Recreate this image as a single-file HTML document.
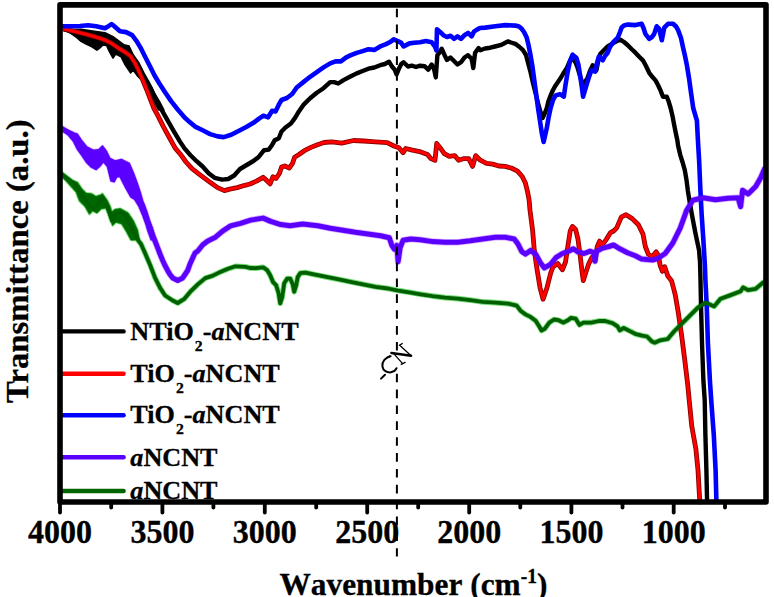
<!DOCTYPE html>
<html><head><meta charset="utf-8"><style>
html,body{margin:0;padding:0;background:#fff;}
body{width:774px;height:597px;overflow:hidden;position:relative;}
svg{position:absolute;left:0;top:0;}
text{font-family:"Liberation Serif",serif;font-weight:bold;fill:#000;}
</style></head><body>
<svg width="774" height="597" viewBox="0 0 774 597">
<g stroke-linejoin="round" stroke-linecap="round">
<polygon points="60.0,126.0 66.7,129.4 73.4,132.7 77.4,134.1 81.4,140.1 86.8,146.8 93.5,150.2 98.9,149.5 102.5,145.9 106.7,151.7 110.0,158.4 115.1,160.9 121.3,159.4 129.4,163.4 133.4,172.8 137.4,183.5 140.1,191.6 142.8,200.9 145.5,210.3 148.8,219.7 152.2,227.7 156.1,240.0 151.1,240.0 147.5,230.0 146.1,225.1 142.8,215.7 138.8,206.3 134.7,199.6 130.7,196.9 125.4,187.5 120.0,176.8 116.8,176.9 114.2,181.9 110.9,181.0 107.5,166.8 103.4,161.8 100.2,166.0 96.2,169.6 90.8,166.9 86.8,162.9 81.4,154.9 77.4,149.5 73.4,141.4 66.7,133.4 60.0,129.4" fill="#dcb0ff" stroke="#dcb0ff" stroke-width="2.6"/>
<polyline fill="none" points="60.5,127.6 64.0,130.0 68.1,132.6 72.0,134.0 75.6,137.6 78.0,141.0 80.6,145.2 83.0,148.0 85.6,152.7 88.0,156.0 90.7,160.3 93.0,162.0 95.7,164.0 97.5,160.0 99.5,157.7 101.0,153.0 103.2,150.2 105.5,155.0 108.3,160.3 110.0,168.0 112.0,175.3 114.0,171.0 115.8,167.8 118.0,165.0 120.8,164.0 123.0,167.0 125.8,170.3 128.0,176.0 130.9,182.9 133.0,186.0 135.9,190.4 138.5,196.0 140.9,203.0 142.5,205.0 145.0,212.0 147.5,220.1 150.0,227.0 152.6,235.2 155.0,241.0 157.6,247.7 160.0,254.0 162.6,260.3 165.0,265.5 167.6,270.4 170.0,274.5 172.7,277.9 177.7,280.4 182.7,277.9 185.0,274.5 187.7,270.4 190.0,264.0 192.8,257.8 195.0,253.0 197.8,251.0 202.8,244.7 207.8,240.9 215.4,237.2 222.9,230.9 230.5,225.9 240.5,223.4 250.6,220.1 263.1,218.1 270.7,221.4 280.7,224.6 290.1,225.7 302.6,224.0 317.7,225.7 330.3,228.2 342.8,230.3 355.4,232.3 367.9,234.0 380.5,235.8 389.3,237.8 391.8,245.3 394.3,249.1 396.8,245.3 398.1,261.7 400.1,247.8 403.1,240.3 410.7,239.0 420.0,239.8 432.6,241.6 445.1,242.3 457.7,242.3 470.3,240.8 482.8,239.0 495.4,237.3 505.4,237.3 514.2,239.0 518.0,244.1 521.8,251.6 525.5,254.1 530.6,250.4 535.6,254.1 540.6,262.9 544.4,267.9 550.3,264.5 556.2,257.4 562.4,253.5 568.6,251.2 573.3,248.8 577.9,251.9 584.1,253.5 590.3,251.2 593.5,252.5 595.0,261.2 596.5,251.2 602.7,248.1 608.9,246.5 613.6,245.0 619.8,248.8 627.5,252.7 635.3,255.8 641.5,258.9 647.6,259.6 652.5,260.0 657.7,258.5 665.2,253.5 672.8,243.0 680.3,227.9 686.6,210.4 692.9,200.3 702.9,197.8 715.5,199.8 728.0,198.3 738.1,197.8 740.6,206.6 742.6,190.3 748.1,194.0 755.7,186.5 760.7,177.7 764.5,168.9" stroke="#dcb0ff" stroke-width="6.6"/>
<polygon points="61.1,172.1 66.5,175.9 72.0,180.3 77.4,182.4 81.8,189.0 86.1,193.3 91.6,193.9 95.9,196.6 100.0,195.3 102.5,193.9 106.8,199.9 110.0,206.4 111.7,212.0 115.1,209.5 120.1,208.7 128.0,213.0 133.4,221.0 137.4,230.0 139.4,240.0 131.0,240.0 126.8,232.1 121.8,223.8 115.9,222.1 112.6,225.4 108.4,213.7 105.8,208.0 101.4,208.6 97.0,212.9 92.7,210.8 89.4,214.0 85.1,206.4 79.6,201.0 76.3,192.2 70.9,186.2 66.5,181.3 61.1,175.9" fill="#7d7" stroke="#7d7" stroke-width="2.6"/>
<polyline fill="none" points="60.5,172.8 64.0,176.0 68.1,179.1 72.0,182.0 75.6,185.4 78.0,189.0 80.6,192.9 83.0,197.0 85.6,200.5 88.0,204.0 90.7,208.0 93.0,208.5 95.7,206.7 99.0,202.0 102.0,197.9 104.5,201.0 107.0,205.5 109.5,213.0 112.0,220.6 114.5,216.0 117.0,213.0 120.0,212.0 123.3,213.0 126.0,216.0 128.4,220.6 131.0,226.0 133.4,230.6 136.0,236.0 138.4,240.7 141.0,244.0 145.0,253.0 150.1,265.0 155.1,277.9 160.1,287.9 165.1,295.5 172.7,300.5 177.7,303.0 184.0,299.2 190.3,291.7 197.8,284.4 205.3,278.1 212.9,275.6 220.4,271.9 227.9,268.8 235.5,266.3 245.5,266.8 250.0,268.0 256.0,268.1 263.1,267.3 267.1,270.1 270.1,275.1 273.1,282.2 276.1,285.2 278.6,293.2 280.2,303.3 282.2,297.2 284.2,283.2 287.2,278.6 290.2,278.6 292.7,284.2 294.2,291.7 296.2,285.2 297.7,277.1 300.3,273.1 305.3,272.6 312.7,274.2 325.2,276.7 337.8,279.2 350.4,281.8 362.9,284.3 375.5,286.8 388.0,288.5 398.1,290.6 410.7,292.6 420.7,294.3 432.6,296.1 445.1,297.6 457.7,298.6 470.3,300.1 482.8,301.9 495.4,302.6 507.9,303.6 516.7,305.6 520.5,310.7 525.5,314.4 530.6,316.9 535.6,320.7 539.0,326.0 541.5,330.5 544.7,328.8 549.3,322.6 554.0,319.5 558.6,320.2 563.3,322.6 567.9,320.2 571.0,317.9 575.7,318.7 579.5,324.9 583.4,322.6 591.2,322.6 598.9,321.0 605.1,321.0 612.9,323.3 617.5,326.4 619.8,330.3 623.7,328.0 629.9,331.1 636.1,334.2 642.3,335.7 647.0,336.5 651.6,341.2 654.7,342.7 660.2,340.3 667.7,339.0 674.0,331.5 680.3,325.2 689.1,316.4 697.9,307.6 705.4,302.6 714.2,306.4 720.5,298.8 730.6,295.1 740.6,291.3 743.1,287.5 748.1,290.1 755.7,288.8 763.2,282.5" stroke="#7d7" stroke-width="5.6"/>
<polygon points="60.0,26.5 68.4,29.6 81.0,29.2 97.7,31.7 105.0,32.7 113.0,36.7 118.4,40.7 123.8,44.7 129.1,46.1 133.2,54.8 138.5,62.2 143.9,72.9 149.2,82.3 154.6,93.0 160.0,102.4 164.0,110.0 158.6,110.0 155.9,105.1 151.9,97.0 147.9,89.0 142.5,80.9 137.2,75.6 133.2,70.2 130.5,72.9 125.1,64.9 121.1,56.8 115.7,54.1 113.0,58.2 109.5,52.0 106.5,45.5 103.0,45.0 100.2,47.7 96.9,50.2 91.9,46.8 85.1,43.5 81.0,41.4 76.8,37.6 68.4,31.7 60.0,29.0" fill="#000" stroke="#000" stroke-width="1.5"/>
<polyline fill="none" points="60.0,27.7 68.4,30.6 76.8,33.5 81.0,35.3 85.1,37.0 91.9,39.5 96.9,41.0 100.2,40.0 105.0,37.5 109.0,43.0 113.0,47.5 115.7,46.0 118.4,48.5 121.1,50.5 125.1,54.8 129.1,59.0 133.2,62.5 138.5,69.0 142.5,76.5 147.0,82.0 150.6,88.2 155.3,98.8 160.0,107.0 164.6,115.2 169.3,123.4 174.0,131.6 180.0,141.6 184.5,148.4 190.5,155.2 196.6,161.2 202.6,166.5 208.6,173.3 214.6,177.8 222.2,179.6 228.2,179.0 234.2,175.5 240.0,169.0 246.7,165.0 253.4,161.0 258.7,156.9 264.1,150.2 268.8,149.6 272.1,144.9 274.8,140.2 278.8,138.2 281.5,131.5 285.5,127.5 290.9,123.5 294.9,118.1 298.9,111.4 303.4,104.9 310.1,98.2 316.8,92.8 323.5,88.2 330.2,82.1 334.2,82.1 338.2,83.5 343.5,80.1 350.9,76.3 356.7,73.4 362.6,71.0 368.4,68.7 374.3,67.5 380.2,65.2 384.9,64.0 389.0,61.7 391.9,66.3 394.8,69.9 396.6,74.5 398.9,68.7 401.3,64.0 403.6,62.2 408.0,66.5 411.9,65.7 416.0,67.0 420.0,65.7 424.7,66.3 428.2,69.8 431.7,64.5 434.1,69.2 435.8,77.4 437.4,55.2 439.3,52.8 441.7,48.7 444.6,55.2 447.0,59.9 450.5,57.5 454.0,61.0 457.5,64.5 461.0,62.2 464.5,57.5 468.1,55.2 471.6,58.7 473.3,68.1 475.1,52.8 478.6,48.1 480.3,50.2 485.0,48.5 490.3,47.7 495.0,46.5 500.4,45.2 504.0,43.5 507.9,41.4 511.0,42.5 515.4,43.9 519.0,46.5 523.0,50.2 526.0,55.0 528.0,62.8 530.5,72.0 533.0,82.9 535.5,93.0 538.0,103.0 540.5,112.0 542.6,118.0 544.5,114.0 546.8,108.0 548.5,101.0 550.6,95.4 553.0,90.0 555.6,85.4 560.0,79.1 563.0,74.0 566.9,67.8 569.5,62.0 572.0,57.7 575.7,62.8 577.6,67.8 580.0,76.0 583.1,85.4 585.0,82.0 587.6,77.8 590.0,71.0 592.7,65.3 594.5,67.0 596.4,70.3 598.0,62.0 600.2,54.0 604.0,50.0 607.7,46.4 611.0,44.5 614.0,42.7 617.0,41.0 620.3,39.6 624.0,42.0 627.8,45.2 631.5,49.0 635.4,52.7 639.0,56.5 642.9,60.3 646.0,66.0 649.2,72.8 652.0,76.5 655.5,80.4 658.0,85.0 660.5,90.4 663.0,96.7 666.8,96.7 668.5,101.0 670.6,108.0 672.5,116.0 674.3,125.6 676.0,134.0 677.3,140.0 678.1,145.7 680.3,155.1 682.5,162.0 684.8,170.2 686.5,180.0 687.8,190.3 689.5,201.0 691.6,212.9 693.5,223.0 695.4,233.0 697.3,242.0 699.1,250.6 700.0,262.0 700.5,280.0 701.0,305.0 702.0,343.0 703.4,380.5 704.7,400.0 705.4,435.1 706.4,470.3 707.1,502.0" stroke="#000" stroke-width="4.4"/>
<polyline fill="none" points="63.0,28.8 68.0,29.8 75.0,31.5 81.0,33.0 87.0,34.5 93.5,36.4 99.0,38.0 105.0,40.0 111.7,43.4 118.4,48.1 125.1,52.1 130.5,56.1 134.5,62.2 138.5,70.2 142.5,79.6 146.6,89.5 150.6,100.0 154.0,108.5 157.6,115.2 163.5,126.9 169.3,137.5 175.2,148.1 180.0,153.7 186.0,162.0 192.0,168.7 198.1,173.3 204.1,177.8 210.1,182.3 217.6,187.6 224.4,190.6 229.7,189.1 237.2,187.6 244.8,185.3 250.0,184.0 256.5,181.1 263.1,177.3 266.3,180.1 270.1,183.9 272.9,176.8 276.1,178.4 279.4,173.5 281.6,167.0 284.8,165.9 289.2,168.1 292.4,163.7 294.6,157.2 299.0,154.5 304.4,150.7 310.9,147.4 317.5,144.7 324.0,142.5 331.8,141.8 341.8,143.1 353.6,140.5 363.7,141.0 375.4,141.8 387.2,142.6 393.9,146.0 398.9,147.7 403.1,152.7 405.7,148.5 412.4,150.2 420.8,151.9 427.5,154.4 430.8,158.6 435.0,160.3 436.7,143.5 440.1,147.7 444.3,153.6 449.3,156.4 454.7,155.6 458.6,160.2 463.3,158.7 468.7,158.7 472.6,166.4 475.7,155.6 480.3,160.2 486.5,163.3 492.7,164.1 498.9,166.0 505.1,166.4 511.3,168.0 517.5,171.1 522.2,176.5 525.3,182.7 527.6,192.0 529.1,200.0 530.0,210.2 532.6,230.3 534.3,250.4 536.8,267.9 540.1,288.0 543.1,299.3 546.9,288.0 550.7,273.0 553.1,266.7 557.8,263.6 562.4,269.8 565.5,262.0 567.8,246.5 570.2,231.0 572.5,226.4 575.6,229.5 577.9,238.8 580.2,255.8 581.8,269.8 583.3,280.6 585.7,272.9 588.8,263.6 591.9,257.4 595.0,260.5 597.3,246.5 599.6,241.1 601.9,245.0 605.8,240.3 610.5,232.6 613.6,231.0 616.7,227.9 621.3,217.1 626.0,214.7 632.2,218.6 638.4,224.8 643.0,234.1 645.3,246.5 648.4,254.3 652.3,256.6 656.2,251.9 658.5,255.8 660.1,265.1 662.4,271.3 664.7,266.7 667.8,276.0 671.5,280.7 674.0,290.0 675.3,295.1 678.3,312.7 681.6,335.3 684.8,360.4 687.8,385.5 689.2,400.0 691.8,426.4 695.9,449.2 698.0,470.3 699.8,502.0" stroke="#800" stroke-width="4.8"/>
<polyline fill="none" points="63.0,28.8 68.0,29.8 75.0,31.5 81.0,33.0 87.0,34.5 93.5,36.4 99.0,38.0 105.0,40.0 111.7,43.4 118.4,48.1 125.1,52.1 130.5,56.1 134.5,62.2 138.5,70.2 142.5,79.6 146.6,89.5 150.6,100.0 154.0,108.5 157.6,115.2 163.5,126.9 169.3,137.5 175.2,148.1 180.0,153.7 186.0,162.0 192.0,168.7 198.1,173.3 204.1,177.8 210.1,182.3 217.6,187.6 224.4,190.6 229.7,189.1 237.2,187.6 244.8,185.3 250.0,184.0 256.5,181.1 263.1,177.3 266.3,180.1 270.1,183.9 272.9,176.8 276.1,178.4 279.4,173.5 281.6,167.0 284.8,165.9 289.2,168.1 292.4,163.7 294.6,157.2 299.0,154.5 304.4,150.7 310.9,147.4 317.5,144.7 324.0,142.5 331.8,141.8 341.8,143.1 353.6,140.5 363.7,141.0 375.4,141.8 387.2,142.6 393.9,146.0 398.9,147.7 403.1,152.7 405.7,148.5 412.4,150.2 420.8,151.9 427.5,154.4 430.8,158.6 435.0,160.3 436.7,143.5 440.1,147.7 444.3,153.6 449.3,156.4 454.7,155.6 458.6,160.2 463.3,158.7 468.7,158.7 472.6,166.4 475.7,155.6 480.3,160.2 486.5,163.3 492.7,164.1 498.9,166.0 505.1,166.4 511.3,168.0 517.5,171.1 522.2,176.5 525.3,182.7 527.6,192.0 529.1,200.0 530.0,210.2 532.6,230.3 534.3,250.4 536.8,267.9 540.1,288.0 543.1,299.3 546.9,288.0 550.7,273.0 553.1,266.7 557.8,263.6 562.4,269.8 565.5,262.0 567.8,246.5 570.2,231.0 572.5,226.4 575.6,229.5 577.9,238.8 580.2,255.8 581.8,269.8 583.3,280.6 585.7,272.9 588.8,263.6 591.9,257.4 595.0,260.5 597.3,246.5 599.6,241.1 601.9,245.0 605.8,240.3 610.5,232.6 613.6,231.0 616.7,227.9 621.3,217.1 626.0,214.7 632.2,218.6 638.4,224.8 643.0,234.1 645.3,246.5 648.4,254.3 652.3,256.6 656.2,251.9 658.5,255.8 660.1,265.1 662.4,271.3 664.7,266.7 667.8,276.0 671.5,280.7 674.0,290.0 675.3,295.1 678.3,312.7 681.6,335.3 684.8,360.4 687.8,385.5 689.2,400.0 691.8,426.4 695.9,449.2 698.0,470.3 699.8,502.0" stroke="#f00" stroke-width="3.0"/>
<polyline fill="none" points="60.0,26.3 70.0,26.3 80.0,26.0 88.0,25.3 96.0,26.3 105.0,28.3 108.0,26.5 111.5,24.0 114.0,26.0 120.0,31.3 126.0,32.1 132.1,35.1 136.6,41.1 141.1,48.7 145.6,57.7 150.2,66.8 154.7,75.8 159.2,83.3 165.2,92.4 171.3,101.4 177.3,109.0 184.6,117.6 189.3,121.7 195.1,126.6 202.6,130.3 210.1,134.1 217.6,136.4 223.7,137.1 231.2,134.8 240.0,130.2 246.7,126.8 253.4,122.8 258.7,118.8 263.4,115.7 268.1,117.4 272.1,110.7 275.5,111.4 278.8,104.7 281.5,100.0 286.9,98.0 292.2,94.0 296.7,87.5 303.4,82.1 310.1,76.8 316.8,72.1 323.5,67.4 330.2,63.4 335.5,61.4 340.9,61.4 346.2,57.4 350.9,55.2 356.7,52.9 362.6,51.1 368.4,49.3 374.3,49.9 380.2,46.4 386.0,44.1 390.7,41.7 393.7,39.4 397.8,41.1 401.3,42.9 403.6,46.4 409.5,43.4 414.0,42.8 420.0,42.3 425.9,41.1 431.7,42.3 435.2,47.0 436.4,50.5 437.0,29.4 439.9,31.7 443.4,35.2 447.0,37.0 450.5,35.8 454.0,38.8 457.5,36.4 461.0,38.8 464.5,35.2 468.1,32.9 471.6,36.4 473.9,31.7 477.4,29.4 480.0,28.0 485.3,27.6 495.3,26.3 505.4,25.1 515.4,25.6 519.0,26.5 521.7,28.8 524.0,32.0 526.7,37.6 528.5,45.0 530.5,55.2 532.5,67.0 534.3,80.4 536.0,93.0 538.0,108.0 540.0,121.0 541.8,133.1 543.6,141.9 545.0,136.0 546.8,128.1 548.5,118.0 550.6,108.0 553.0,100.0 555.6,95.4 560.0,94.2 563.8,96.7 565.5,85.0 567.5,72.8 570.0,61.0 572.6,54.7 576.3,57.7 578.5,65.0 580.1,75.3 581.8,87.0 583.1,96.7 586.4,85.4 589.0,77.0 591.4,70.3 595.2,71.6 597.0,63.0 598.9,56.5 602.7,60.3 605.0,56.0 607.7,52.7 610.0,47.0 612.8,42.7 617.8,37.6 620.0,32.0 621.6,27.6 624.0,25.5 627.8,24.6 635.4,25.1 641.7,23.8 643.5,28.0 645.4,33.9 649.2,38.9 652.0,37.0 654.2,33.9 656.7,26.3 659.2,28.8 661.8,40.2 664.3,27.6 668.0,23.8 673.1,23.8 676.0,26.5 678.1,30.1 681.0,38.0 683.1,47.7 685.0,56.0 686.9,65.3 689.0,78.0 690.7,90.4 693.2,108.0 696.9,120.6 697.9,140.0 699.1,160.1 700.4,190.3 701.7,215.4 703.4,240.5 704.9,265.6 705.4,280.0 706.7,305.1 707.9,342.8 709.9,380.5 711.2,400.0 713.8,435.1 715.6,470.3 716.4,502.0" stroke="#0000ff" stroke-width="4.6"/>
<polygon points="60.0,126.0 66.7,129.4 73.4,132.7 77.4,134.1 81.4,140.1 86.8,146.8 93.5,150.2 98.9,149.5 102.5,145.9 106.7,151.7 110.0,158.4 115.1,160.9 121.3,159.4 129.4,163.4 133.4,172.8 137.4,183.5 140.1,191.6 142.8,200.9 145.5,210.3 148.8,219.7 152.2,227.7 156.1,240.0 151.1,240.0 147.5,230.0 146.1,225.1 142.8,215.7 138.8,206.3 134.7,199.6 130.7,196.9 125.4,187.5 120.0,176.8 116.8,176.9 114.2,181.9 110.9,181.0 107.5,166.8 103.4,161.8 100.2,166.0 96.2,169.6 90.8,166.9 86.8,162.9 81.4,154.9 77.4,149.5 73.4,141.4 66.7,133.4 60.0,129.4" fill="#5a00ff" stroke="#5a00ff" stroke-width="1.2"/>
<polyline fill="none" points="60.5,127.6 64.0,130.0 68.1,132.6 72.0,134.0 75.6,137.6 78.0,141.0 80.6,145.2 83.0,148.0 85.6,152.7 88.0,156.0 90.7,160.3 93.0,162.0 95.7,164.0 97.5,160.0 99.5,157.7 101.0,153.0 103.2,150.2 105.5,155.0 108.3,160.3 110.0,168.0 112.0,175.3 114.0,171.0 115.8,167.8 118.0,165.0 120.8,164.0 123.0,167.0 125.8,170.3 128.0,176.0 130.9,182.9 133.0,186.0 135.9,190.4 138.5,196.0 140.9,203.0 142.5,205.0 145.0,212.0 147.5,220.1 150.0,227.0 152.6,235.2 155.0,241.0 157.6,247.7 160.0,254.0 162.6,260.3 165.0,265.5 167.6,270.4 170.0,274.5 172.7,277.9 177.7,280.4 182.7,277.9 185.0,274.5 187.7,270.4 190.0,264.0 192.8,257.8 195.0,253.0 197.8,251.0 202.8,244.7 207.8,240.9 215.4,237.2 222.9,230.9 230.5,225.9 240.5,223.4 250.6,220.1 263.1,218.1 270.7,221.4 280.7,224.6 290.1,225.7 302.6,224.0 317.7,225.7 330.3,228.2 342.8,230.3 355.4,232.3 367.9,234.0 380.5,235.8 389.3,237.8 391.8,245.3 394.3,249.1 396.8,245.3 398.1,261.7 400.1,247.8 403.1,240.3 410.7,239.0 420.0,239.8 432.6,241.6 445.1,242.3 457.7,242.3 470.3,240.8 482.8,239.0 495.4,237.3 505.4,237.3 514.2,239.0 518.0,244.1 521.8,251.6 525.5,254.1 530.6,250.4 535.6,254.1 540.6,262.9 544.4,267.9 550.3,264.5 556.2,257.4 562.4,253.5 568.6,251.2 573.3,248.8 577.9,251.9 584.1,253.5 590.3,251.2 593.5,252.5 595.0,261.2 596.5,251.2 602.7,248.1 608.9,246.5 613.6,245.0 619.8,248.8 627.5,252.7 635.3,255.8 641.5,258.9 647.6,259.6 652.5,260.0 657.7,258.5 665.2,253.5 672.8,243.0 680.3,227.9 686.6,210.4 692.9,200.3 702.9,197.8 715.5,199.8 728.0,198.3 738.1,197.8 740.6,206.6 742.6,190.3 748.1,194.0 755.7,186.5 760.7,177.7 764.5,168.9" stroke="#5a00ff" stroke-width="5.0"/>
<polygon points="61.1,172.1 66.5,175.9 72.0,180.3 77.4,182.4 81.8,189.0 86.1,193.3 91.6,193.9 95.9,196.6 100.0,195.3 102.5,193.9 106.8,199.9 110.0,206.4 111.7,212.0 115.1,209.5 120.1,208.7 128.0,213.0 133.4,221.0 137.4,230.0 139.4,240.0 131.0,240.0 126.8,232.1 121.8,223.8 115.9,222.1 112.6,225.4 108.4,213.7 105.8,208.0 101.4,208.6 97.0,212.9 92.7,210.8 89.4,214.0 85.1,206.4 79.6,201.0 76.3,192.2 70.9,186.2 66.5,181.3 61.1,175.9" fill="#006800" stroke="#006800" stroke-width="0.8"/>
<polyline fill="none" points="60.5,172.8 64.0,176.0 68.1,179.1 72.0,182.0 75.6,185.4 78.0,189.0 80.6,192.9 83.0,197.0 85.6,200.5 88.0,204.0 90.7,208.0 93.0,208.5 95.7,206.7 99.0,202.0 102.0,197.9 104.5,201.0 107.0,205.5 109.5,213.0 112.0,220.6 114.5,216.0 117.0,213.0 120.0,212.0 123.3,213.0 126.0,216.0 128.4,220.6 131.0,226.0 133.4,230.6 136.0,236.0 138.4,240.7 141.0,244.0 145.0,253.0 150.1,265.0 155.1,277.9 160.1,287.9 165.1,295.5 172.7,300.5 177.7,303.0 184.0,299.2 190.3,291.7 197.8,284.4 205.3,278.1 212.9,275.6 220.4,271.9 227.9,268.8 235.5,266.3 245.5,266.8 250.0,268.0 256.0,268.1 263.1,267.3 267.1,270.1 270.1,275.1 273.1,282.2 276.1,285.2 278.6,293.2 280.2,303.3 282.2,297.2 284.2,283.2 287.2,278.6 290.2,278.6 292.7,284.2 294.2,291.7 296.2,285.2 297.7,277.1 300.3,273.1 305.3,272.6 312.7,274.2 325.2,276.7 337.8,279.2 350.4,281.8 362.9,284.3 375.5,286.8 388.0,288.5 398.1,290.6 410.7,292.6 420.7,294.3 432.6,296.1 445.1,297.6 457.7,298.6 470.3,300.1 482.8,301.9 495.4,302.6 507.9,303.6 516.7,305.6 520.5,310.7 525.5,314.4 530.6,316.9 535.6,320.7 539.0,326.0 541.5,330.5 544.7,328.8 549.3,322.6 554.0,319.5 558.6,320.2 563.3,322.6 567.9,320.2 571.0,317.9 575.7,318.7 579.5,324.9 583.4,322.6 591.2,322.6 598.9,321.0 605.1,321.0 612.9,323.3 617.5,326.4 619.8,330.3 623.7,328.0 629.9,331.1 636.1,334.2 642.3,335.7 647.0,336.5 651.6,341.2 654.7,342.7 660.2,340.3 667.7,339.0 674.0,331.5 680.3,325.2 689.1,316.4 697.9,307.6 705.4,302.6 714.2,306.4 720.5,298.8 730.6,295.1 740.6,291.3 743.1,287.5 748.1,290.1 755.7,288.8 763.2,282.5" stroke="#005f00" stroke-width="3.8"/>
</g>
<line x1="396.9" y1="8.7" x2="396.9" y2="556.5" stroke="#000" stroke-width="2" stroke-dasharray="8.6 7.27"/>
<g stroke-width="4.4" stroke-linecap="round"><line x1="62" y1="331.4" x2="123.6" y2="331.4" stroke="#000" /><line x1="62" y1="373.8" x2="123.6" y2="373.8" stroke="#f00" /><line x1="62" y1="415.2" x2="123.6" y2="415.2" stroke="#0000ff" /><line x1="62" y1="457.3" x2="123.6" y2="457.3" stroke="#5a00ff" /><line x1="62" y1="491.0" x2="123.6" y2="491.0" stroke="#006400" /></g>
<rect x="60" y="4.9" width="706" height="497.1" fill="none" stroke="#000" stroke-width="5.6" stroke-linejoin="round"/>
<g stroke="#000" stroke-width="3.8" stroke-linecap="round"><line x1="60" y1="503" x2="60" y2="512.5" /><line x1="162.4" y1="503" x2="162.4" y2="512.5" /><line x1="264.8" y1="503" x2="264.8" y2="512.5" /><line x1="367.2" y1="503" x2="367.2" y2="512.5" /><line x1="469.2" y1="503" x2="469.2" y2="512.5" /><line x1="571.4" y1="503" x2="571.4" y2="512.5" /><line x1="673.7" y1="503" x2="673.7" y2="512.5" /><line x1="111.2" y1="503" x2="111.2" y2="507.5" /><line x1="213.4" y1="503" x2="213.4" y2="507.5" /><line x1="316.2" y1="503" x2="316.2" y2="507.5" /><line x1="418.2" y1="503" x2="418.2" y2="507.5" /><line x1="520.3" y1="503" x2="520.3" y2="507.5" /><line x1="622.5" y1="503" x2="622.5" y2="507.5" /><line x1="725.0" y1="503" x2="725.0" y2="507.5" /></g>
<g font-size="33"><text transform="translate(60,542.6) scale(0.97,1)" text-anchor="middle" stroke="#000" stroke-width="0.35">4000</text><text transform="translate(162.4,542.6) scale(0.97,1)" text-anchor="middle" stroke="#000" stroke-width="0.35">3500</text><text transform="translate(264.8,542.6) scale(0.97,1)" text-anchor="middle" stroke="#000" stroke-width="0.35">3000</text><text transform="translate(367.2,542.6) scale(0.97,1)" text-anchor="middle" stroke="#000" stroke-width="0.35">2500</text><text transform="translate(469.2,542.6) scale(0.97,1)" text-anchor="middle" stroke="#000" stroke-width="0.35">2000</text><text transform="translate(571.4,542.6) scale(0.97,1)" text-anchor="middle" stroke="#000" stroke-width="0.35">1500</text><text transform="translate(673.7,542.6) scale(0.97,1)" text-anchor="middle" stroke="#000" stroke-width="0.35">1000</text></g>
<g font-size="25"><text transform="translate(130.3,339.6) scale(1.047,1)" stroke="#000" stroke-width="0.3">NTiO<tspan dx="1" dy="11" font-size="15">2</tspan><tspan dy="-11">-</tspan><tspan font-style="italic">a</tspan>NCNT</text><text transform="translate(130.3,382.0) scale(1.047,1)" stroke="#000" stroke-width="0.3">TiO<tspan dx="1" dy="11" font-size="15">2</tspan><tspan dy="-11">-</tspan><tspan font-style="italic">a</tspan>NCNT</text><text transform="translate(130.3,423.4) scale(1.047,1)" stroke="#000" stroke-width="0.3">TiO<tspan dx="1" dy="11" font-size="15">2</tspan><tspan dy="-11">-</tspan><tspan font-style="italic">a</tspan>NCNT</text><text transform="translate(130.3,465.5) scale(1.047,1)" stroke="#000" stroke-width="0.3"><tspan font-style="italic">a</tspan>NCNT</text><text transform="translate(130.3,499.2) scale(1.047,1)" stroke="#000" stroke-width="0.3"><tspan font-style="italic">a</tspan>NCNT</text></g>
<text transform="translate(279.5,594.7) scale(0.98,1)" font-size="32" style="font-kerning:none" stroke="#000" stroke-width="0.3">Wavenumber (cm<tspan dy="-11.5" font-size="20">-1</tspan><tspan dy="11.5">)</tspan></text>
<text transform="translate(27.7,403) rotate(-90) scale(1.022,1)" font-size="32" stroke="#000" stroke-width="0.3">Transmittance (a.u.)</text>
<rect x="394.5" y="351" width="5" height="21" fill="#fff"/>
<g fill="none" stroke="#000" stroke-linecap="round">
<path d="M381,378.6 L385,374.8" stroke-width="2"/>
<path d="M390.6,356.3 C385.5,357.3 381.8,361.8 382.4,366.3 C383,370.6 387,372.9 391,372.3 C393.6,371.9 395.6,370.4 396.6,368.2" stroke-width="2"/>
<path d="M387.6,357.2 L389.8,355.8" stroke-width="1.2"/>
<path d="M391.4,353 L411.1,355.8" stroke-width="2.4"/>
<path d="M411.1,355.8 L400.5,346" stroke-width="1.3"/>
<path d="M399.4,345.4 L402.3,343.5" stroke-width="1.3"/>
<path d="M394.2,354.1 L402.6,363.6" stroke-width="1.3"/>
<path d="M401.2,364.4 L405.1,362.4" stroke-width="1.3"/>
</g>
</svg>
</body></html>
